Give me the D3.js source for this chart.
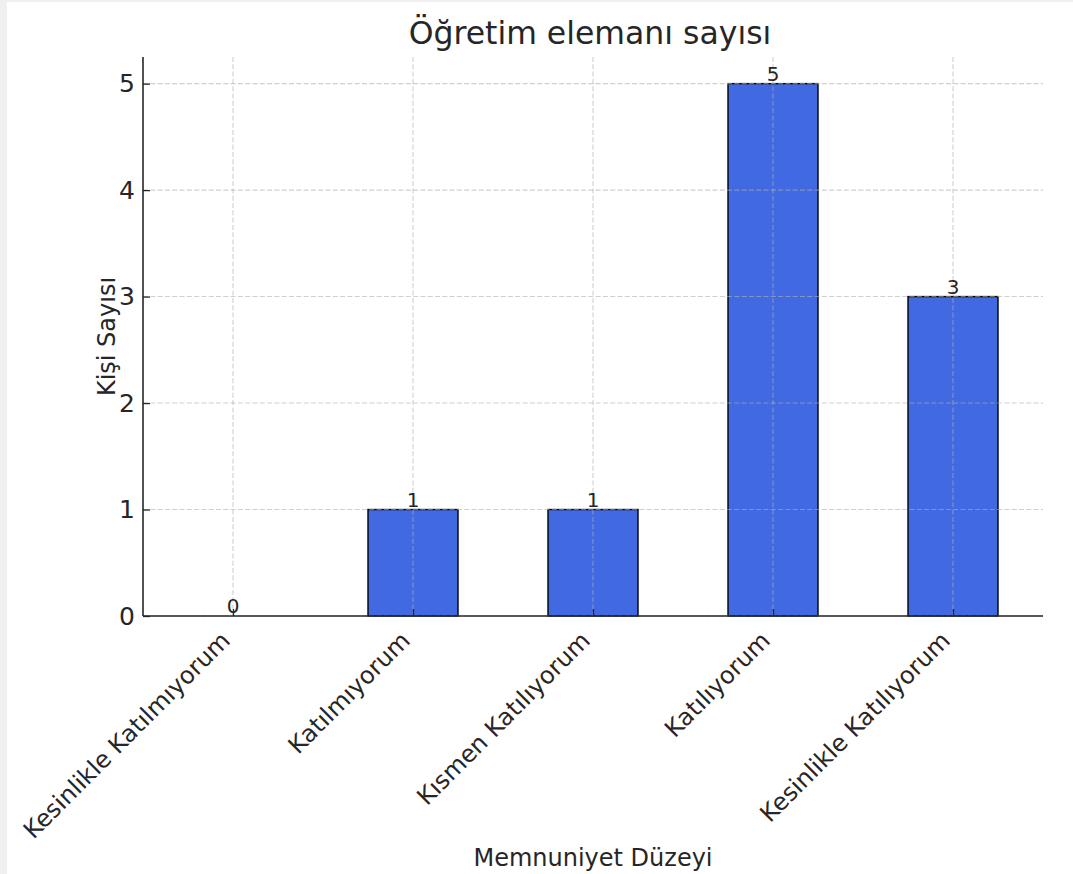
<!DOCTYPE html>
<html>
<head>
<meta charset="utf-8">
<script src="https://cdn.jsdelivr.net/npm/d3@7"></script>
<style>
  html, body { margin: 0; padding: 0; background: #f0f0f0; }
  svg { display: block; }
  text { font-family: "DejaVu Sans", sans-serif; fill: #262626; }
</style>
</head>
<body>
<svg id="chart" width="1073" height="874"></svg>
<script>
const categories = ["Kesinlikle Katılmıyorum", "Katılmıyorum", "Kısmen Katılıyorum", "Katılıyorum", "Kesinlikle Katılıyorum"];
const counts = [0, 1, 1, 5, 3];
const yTicks = [0, 1, 2, 3, 4, 5];
const title = "Öğretim elemanı sayısı";
const xTitle = "Memnuniyet Düzeyi";
const yTitle = "Kişi Sayısı";

const W = 1073, H = 874;
const m = { left: 143, right: 1043, top: 57, bottom: 616 };
const svg = d3.select("#chart");

svg.append("rect").attr("x", 7).attr("y", 2).attr("width", W - 7).attr("height", H - 2).attr("fill", "#ffffff");

const x = d3.scaleLinear().domain([-0.5, categories.length - 0.5]).range([m.left, m.right]);
const y = d3.scaleLinear().domain([0, 5.25]).range([m.bottom, m.top]);
const barW = 0.5;

// bars
svg.append("g").selectAll("rect").data(counts).join("rect")
  .attr("x", (d, i) => x(i - barW / 2))
  .attr("y", d => y(d))
  .attr("width", (d, i) => x(i + barW / 2) - x(i - barW / 2))
  .attr("height", d => y(0) - y(d))
  .attr("fill", "#4169E1")
  .attr("stroke", "#000")
  .attr("stroke-width", 1.4);

// grid (on top)
const grid = svg.append("g").attr("stroke", "#b0b0b0").attr("stroke-opacity", 0.6)
  .attr("stroke-width", 1.1).attr("stroke-dasharray", "5,2.3");
grid.selectAll("line.v").data(categories).join("line").attr("class", "v")
  .attr("x1", (d, i) => x(i)).attr("x2", (d, i) => x(i))
  .attr("y1", m.top).attr("y2", m.bottom);
grid.selectAll("line.h").data(yTicks).join("line").attr("class", "h")
  .attr("x1", m.left).attr("x2", m.right)
  .attr("y1", d => y(d)).attr("y2", d => y(d));

// axes
const yAxis = d3.axisLeft(y).tickValues(yTicks).tickSize(-7).tickPadding(8).tickFormat(d3.format("d"));
const gy = svg.append("g").attr("transform", `translate(${m.left},0)`).call(yAxis);
gy.select(".domain").remove();
gy.selectAll(".tick line").attr("stroke", "#262626").attr("stroke-width", 1.3);
gy.selectAll(".tick text").attr("font-size", 25).attr("fill", "#262626").attr("font-family", "DejaVu Sans");

const xAxis = d3.axisBottom(x).tickValues(d3.range(categories.length)).tickSize(-7).tickFormat(i => categories[i]);
const gx = svg.append("g").attr("transform", `translate(0,${m.bottom})`).call(xAxis);
gx.select(".domain").remove();
gx.selectAll(".tick line").attr("stroke", "#262626").attr("stroke-width", 1.3);
gx.selectAll(".tick text")
  .attr("font-size", 24).attr("fill", "#262626").attr("font-family", "DejaVu Sans")
  .attr("text-anchor", "end")
  .attr("dy", null)
  .attr("y", 0)
  .attr("transform", "translate(-2,26) rotate(-45)");

// spines
svg.append("line").attr("x1", m.left).attr("x2", m.left).attr("y1", m.top).attr("y2", m.bottom)
  .attr("stroke", "#262626").attr("stroke-width", 1.6);
svg.append("line").attr("x1", m.left).attr("x2", m.right).attr("y1", m.bottom).attr("y2", m.bottom)
  .attr("stroke", "#262626").attr("stroke-width", 1.6);

// value labels
svg.append("g").selectAll("text").data(counts).join("text")
  .attr("x", (d, i) => x(i))
  .attr("y", d => y(d) - 3)
  .attr("text-anchor", "middle")
  .attr("font-size", 20)
  .attr("fill", "#333")
  .text(d => d);

// titles
svg.append("text").attr("x", (m.left + m.right) / 2 - 3).attr("y", 44)
  .attr("text-anchor", "middle").attr("font-size", 31.5).text(title);
svg.append("text").attr("x", (m.left + m.right) / 2).attr("y", 866)
  .attr("text-anchor", "middle").attr("font-size", 24).text(xTitle);
svg.append("text").attr("transform", `translate(115,${(m.top + m.bottom) / 2}) rotate(-90)`)
  .attr("text-anchor", "middle").attr("font-size", 24).text(yTitle);
</script>
</body>
</html>
